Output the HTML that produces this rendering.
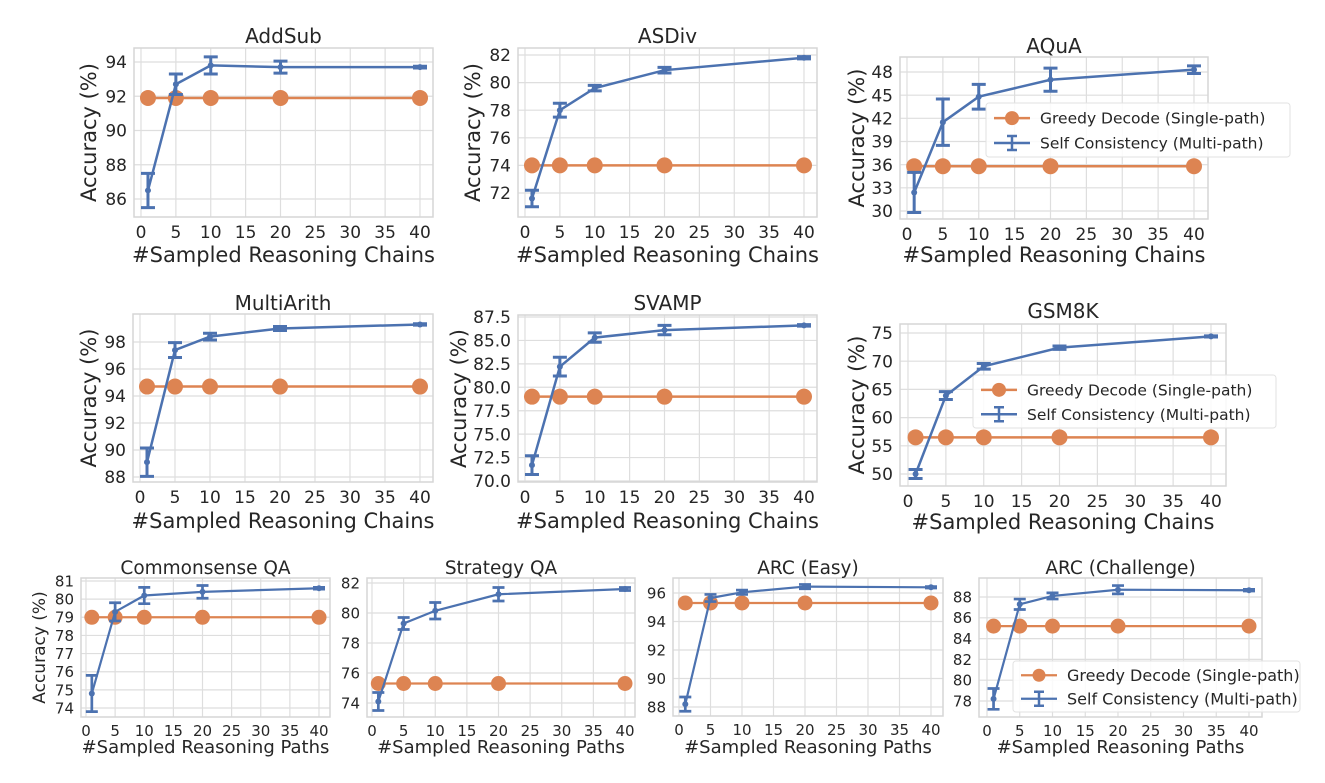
<!DOCTYPE html>
<html><head><meta charset="utf-8">
<style>
html,body{margin:0;padding:0;background:#fff;}
svg{display:block;font-family:"DejaVu Sans","Liberation Sans",sans-serif;}
</style></head>
<body>
<svg id="fig" width="1325" height="783" viewBox="0 0 1325 783" xmlns="http://www.w3.org/2000/svg"></svg>
<script>
// ---- data ----
const xCats = [1, 5, 10, 20, 40];
const xTicks = [0, 5, 10, 15, 20, 25, 30, 35, 40];

const addsubGreedy = [91.9, 91.9, 91.9, 91.9, 91.9];
const addsubSC = [86.5, 92.7, 93.8, 93.7, 93.7];
const addsubErr = [1.0, 0.6, 0.5, 0.35, 0.05];
const addsubTicks = [86, 88, 90, 92, 94];

const asdivGreedy = [74.0, 74.0, 74.0, 74.0, 74.0];
const asdivSC = [71.6, 78.0, 79.6, 80.9, 81.8];
const asdivErr = [0.6, 0.5, 0.2, 0.2, 0.08];
const asdivTicks = [72, 74, 76, 78, 80, 82];

const aquaGreedy = [35.8, 35.8, 35.8, 35.8, 35.8];
const aquaSC = [32.4, 41.5, 44.8, 47.0, 48.3];
const aquaErr = [2.6, 3.0, 1.6, 1.5, 0.5];
const aquaTicks = [30, 33, 36, 39, 42, 45, 48];

const multiGreedy = [94.7, 94.7, 94.7, 94.7, 94.7];
const multiSC = [89.1, 97.4, 98.4, 99.0, 99.3];
const multiErr = [1.05, 0.55, 0.25, 0.15, 0.05];
const multiTicks = [88, 90, 92, 94, 96, 98];

const svampGreedy = [79.0, 79.0, 79.0, 79.0, 79.0];
const svampSC = [71.7, 82.2, 85.3, 86.1, 86.6];
const svampErr = [1.0, 1.0, 0.5, 0.5, 0.08];
const svampTicks = [70.0, 72.5, 75.0, 77.5, 80.0, 82.5, 85.0, 87.5];

const gsmGreedy = [56.5, 56.5, 56.5, 56.5, 56.5];
const gsmSC = [50.0, 63.9, 69.1, 72.4, 74.4];
const gsmErr = [0.8, 0.7, 0.5, 0.3, 0.1];
const gsmTicks = [50, 55, 60, 65, 70, 75];

const csqaGreedy = [79.0, 79.0, 79.0, 79.0, 79.0];
const csqaSC = [74.8, 79.3, 80.2, 80.4, 80.6];
const csqaErr = [1.0, 0.5, 0.45, 0.35, 0.05];
const csqaTicks = [74, 75, 76, 77, 78, 79, 80, 81];

const stratGreedy = [75.3, 75.3, 75.3, 75.3, 75.3];
const stratSC = [74.1, 79.3, 80.15, 81.25, 81.6];
const stratErr = [0.6, 0.4, 0.55, 0.45, 0.1];
const stratTicks = [74, 76, 78, 80, 82];

const arceGreedy = [95.3, 95.3, 95.3, 95.3, 95.3];
const arceSC = [88.2, 95.65, 96.05, 96.45, 96.4];
const arceErr = [0.5, 0.25, 0.15, 0.15, 0.05];
const arceTicks = [88, 90, 92, 94, 96];

const arccGreedy = [85.2, 85.2, 85.2, 85.2, 85.2];
const arccSC = [78.2, 87.3, 88.1, 88.7, 88.65];
const arccErr = [1.0, 0.5, 0.3, 0.4, 0.08];
const arccTicks = [78, 80, 82, 84, 86, 88];

// ---- layout ----
const BIG = {title:20, tick:17, xlab:21, ylab:21, mr:8, cap:7, lw:2.5, leg:15.5};
const SMALL = {title:18.5, tick:15, xlab:18, ylab:17, mr:7.5, cap:6, lw:2.2, leg:16};
const panels = [
 {name:'addsub', title:'AddSub', g:addsubGreedy, s:addsubSC, e:addsubErr, yt:addsubTicks, dec:0,
  box:[134,48,433,217], x0:141, x40:420, yA:[94,62], yB:[86,199], titleY:43, xlabY:262, ylabX:96, xlab:'#Sampled Reasoning Chains', st:BIG},
 {name:'asdiv', title:'ASDiv', g:asdivGreedy, s:asdivSC, e:asdivErr, yt:asdivTicks, dec:0,
  box:[518,48,817,217], x0:525, x40:804, yA:[82,55], yB:[72,193], titleY:43, xlabY:262, ylabX:480, xlab:'#Sampled Reasoning Chains', st:BIG},
 {name:'aqua', title:'AQuA', g:aquaGreedy, s:aquaSC, e:aquaErr, yt:aquaTicks, dec:0,
  box:[900,57,1208,219], x0:907, x40:1194, yA:[48,72], yB:[30,211], titleY:53, xlabY:262, ylabX:864, xlab:'#Sampled Reasoning Chains', st:BIG,
  legend:[986,103,1290,157]},
 {name:'multiarith', title:'MultiArith', g:multiGreedy, s:multiSC, e:multiErr, yt:multiTicks, dec:0,
  box:[133,314,433,482], x0:140, x40:420, yA:[98,342], yB:[88,477], titleY:310, xlabY:528, ylabX:96, xlab:'#Sampled Reasoning Chains', st:BIG},
 {name:'svamp', title:'SVAMP', g:svampGreedy, s:svampSC, e:svampErr, yt:svampTicks, dec:1,
  box:[518,315,817,482], x0:525, x40:804, yA:[87.5,317], yB:[70,481], titleY:310, xlabY:528, ylabX:466, xlab:'#Sampled Reasoning Chains', st:BIG},
 {name:'gsm8k', title:'GSM8K', g:gsmGreedy, s:gsmSC, e:gsmErr, yt:gsmTicks, dec:0,
  box:[900,324,1226,486], x0:908, x40:1211, yA:[75,333], yB:[50,474], titleY:318, xlabY:529, ylabX:864, xlab:'#Sampled Reasoning Chains', st:BIG,
  legend:[973,375,1276,428]},
 {name:'commonsense-qa', title:'Commonsense QA', g:csqaGreedy, s:csqaSC, e:csqaErr, yt:csqaTicks, dec:0,
  box:[81,578,330,717], x0:86, x40:319, yA:[81,581], yB:[74,708], titleY:574, xlabY:753, ylabX:45, xlab:'#Sampled Reasoning Paths', st:SMALL},
 {name:'strategy-qa', title:'Strategy QA', g:stratGreedy, s:stratSC, e:stratErr, yt:stratTicks, dec:0,
  box:[367,578,635,717], x0:372, x40:625, yA:[82,583], yB:[74,703], titleY:574, xlabY:753, ylabX:null, xlab:'#Sampled Reasoning Paths', st:SMALL},
 {name:'arc-easy', title:'ARC (Easy)', g:arceGreedy, s:arceSC, e:arceErr, yt:arceTicks, dec:0,
  box:[673,578,943,716], x0:679, x40:931, yA:[96,593], yB:[88,707], titleY:574, xlabY:753, ylabX:null, xlab:'#Sampled Reasoning Paths', st:SMALL},
 {name:'arc-challenge', title:'ARC (Challenge)', g:arccGreedy, s:arccSC, e:arccErr, yt:arccTicks, dec:0,
  box:[979,578,1262,717], x0:987, x40:1249, yA:[88,597], yB:[78,701], titleY:574, xlabY:753, ylabX:null, xlab:'#Sampled Reasoning Paths', st:SMALL,
  legend:[1013,661,1300,712]},
];

const NS = 'http://www.w3.org/2000/svg';
const fig = document.getElementById('fig');
function mk(tag, attrs, parent){
  const el = document.createElementNS(NS, tag);
  for (const k in attrs) el.setAttribute(k, attrs[k]);
  (parent||fig).appendChild(el);
  return el;
}
const ORANGE = '#dd8452', BLUE = '#4c72b0', GRID = '#dedede', TXT = '#262626';

panels.forEach(p => {
  const st = p.st;
  const g = mk('g', {});
  
  
  const [L,T,R,B] = p.box;
  const xs = v => p.x0 + (v/40)*(p.x40 - p.x0);
  const ys = v => p.yA[1] + (v - p.yA[0])*(p.yB[1]-p.yA[1])/(p.yB[0]-p.yA[0]);

  xTicks.forEach(t => {
    const ln = mk('line', {x1:xs(t), x2:xs(t), y1:T, y2:B, stroke:GRID, 'stroke-width':1.2}, g);
    
    
    const tx = mk('text', {x:xs(t), y:B + st.tick + 4, 'text-anchor':'middle', 'font-size':st.tick, fill:TXT}, g);
    
    
    tx.textContent = t;
  });
  p.yt.forEach(t => {
    const ln = mk('line', {x1:L, x2:R, y1:ys(t), y2:ys(t), stroke:GRID, 'stroke-width':1.2}, g);
    
    
    const tx = mk('text', {x:L - 7, y:ys(t) + st.tick*0.36, 'text-anchor':'end', 'font-size':st.tick, fill:TXT}, g);
    
    
    tx.textContent = t.toFixed(p.dec);
  });
  const frame = mk('rect', {x:L, y:T, width:R-L, height:B-T, fill:'none', stroke:'#d6d6d6', 'stroke-width':1.5}, g);
  
  

  const ti = mk('text', {x:(L+R)/2, y:p.titleY, 'text-anchor':'middle', 'font-size':st.title, fill:TXT}, g);
  
  
  ti.textContent = p.title;
  const xl = mk('text', {x:(L+R)/2, y:p.xlabY, 'text-anchor':'middle', 'font-size':st.xlab, fill:TXT}, g);
  
  
  xl.textContent = p.xlab;
  if (p.ylabX !== null) {
    const cy = (T+B)/2;
    const yl = mk('text', {x:p.ylabX, y:cy, 'text-anchor':'middle', 'font-size':st.ylab, fill:TXT, transform:`rotate(-90 ${p.ylabX} ${cy})`}, g);
    
    
    yl.textContent = 'Accuracy (%)';
  }

  const gpts = xCats.map((x,i) => xs(x)+','+ys(p.g[i])).join(' ');
  const gl = mk('polyline', {points:gpts, fill:'none', stroke:ORANGE, 'stroke-width':st.lw}, g);
  
  
  xCats.forEach((x,i) => {
    const c = mk('circle', {cx:xs(x), cy:ys(p.g[i]), r:st.mr, fill:ORANGE}, g);
    
    
  });

  const spts = xCats.map((x,i) => xs(x)+','+ys(p.s[i])).join(' ');
  const sl = mk('polyline', {points:spts, fill:'none', stroke:BLUE, 'stroke-width':st.lw}, g);
  
  
  xCats.forEach((x,i) => {
    const cx = xs(x), lo = ys(p.s[i]-p.e[i]), hi = ys(p.s[i]+p.e[i]);
    const eb = mk('path', {d:`M${cx},${lo}V${hi}M${cx-st.cap},${lo}H${cx+st.cap}M${cx-st.cap},${hi}H${cx+st.cap}`, stroke:BLUE, 'stroke-width':st.lw+0.5, fill:'none'}, g);
    
    
    const c = mk('circle', {cx:cx, cy:ys(p.s[i]), r:3, fill:BLUE}, g);
    
    
  });

  if (p.legend) {
    const [lx,ly,lr,lb] = p.legend;
    const lg = mk('g', {}, g);
    
    
    mk('rect', {x:lx, y:ly, width:lr-lx, height:lb-ly, rx:3, fill:'rgba(255,255,255,0.85)', stroke:'#e2e2e2'}, lg);
    const fs = st.leg;
    const r1 = ly + (lb-ly)*0.28, r2 = ly + (lb-ly)*0.74;
    mk('line', {x1:lx+8, x2:lx+44, y1:r1, y2:r1, stroke:ORANGE, 'stroke-width':st.lw}, lg);
    mk('circle', {cx:lx+26, cy:r1, r:st.mr-1, fill:ORANGE}, lg);
    const t1 = mk('text', {x:lx+54, y:r1+fs*0.36, 'font-size':fs, fill:TXT}, lg);
    
    
    t1.textContent = 'Greedy Decode (Single-path)';
    mk('line', {x1:lx+8, x2:lx+44, y1:r2, y2:r2, stroke:BLUE, 'stroke-width':st.lw}, lg);
    mk('path', {d:`M${lx+26},${r2-7}V${r2+7}M${lx+21},${r2-7}H${lx+31}M${lx+21},${r2+7}H${lx+31}`, stroke:BLUE, 'stroke-width':2.5, fill:'none'}, lg);
    const t2 = mk('text', {x:lx+54, y:r2+fs*0.36, 'font-size':fs, fill:TXT}, lg);
    
    
    t2.textContent = 'Self Consistency (Multi-path)';
  }
});
</script>
</body></html>
